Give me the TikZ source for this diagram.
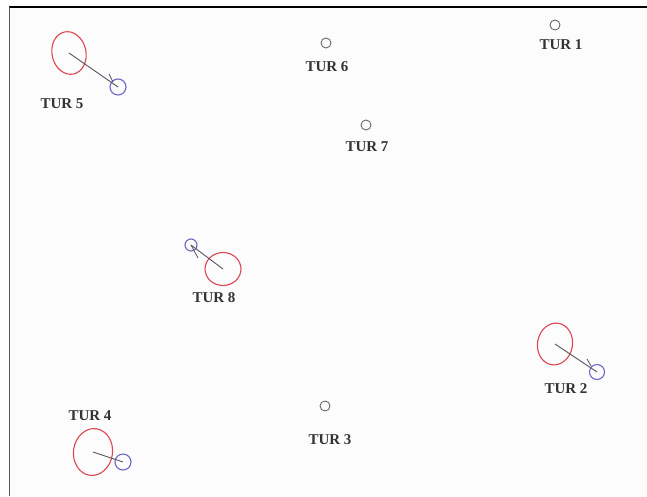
\documentclass[tikz,border=0pt]{standalone}
\usepackage{fontspec}
\setmainfont{Liberation Serif}
\usetikzlibrary{shapes.geometric}
\definecolor{ellred}{RGB}{222,70,80}
\definecolor{cirblue}{RGB}{105,105,200}
\definecolor{linegray}{RGB}{85,85,95}
\definecolor{turgray}{RGB}{105,105,105}
\definecolor{bgpaper}{RGB}{252,252,253}
\tikzset{
  turlabel/.style={font=\fontsize{15}{16}\selectfont\bfseries, text=black!80, inner sep=0pt},
  turbine/.style={circle, draw=turgray, line width=0.9pt, minimum size=10pt, inner sep=0pt},
  wake/.style={ellipse, draw=ellred, line width=1.1pt, inner sep=0pt},
  rotor/.style={circle, draw=cirblue, line width=1.1pt, inner sep=0pt},
  link/.style={draw=linegray, line width=0.9pt},
  tick/.style={draw=linegray, line width=0.8pt}
}
\begin{document}
\begin{tikzpicture}[x=1pt,y=-1pt]
\useasboundingbox (0,0) rectangle (647,496);
\fill[bgpaper] (10,7) rectangle (647,496);
\draw[black, line width=1.6pt] (9,7) -- (647,7);
\draw[black!65, line width=1.4pt] (9.5,6.5) -- (9.5,496);
% simple turbines
\node[turbine] (t1) at (555,25) {};
\node[turlabel] (l1) at (561,45) {TUR 1};
\node[turbine] (t6) at (326,43) {};
\node[turlabel] (l6) at (327,67) {TUR 6};
\node[turbine] (t7) at (366,125) {};
\node[turlabel] (l7) at (367,147) {TUR 7};
\node[turbine] (t3) at (325,406) {};
\node[turlabel] (l3) at (330,440) {TUR 3};
% TUR 5
\node[wake, minimum width=34pt, minimum height=43pt, rotate=12] (e5) at (69,53) {};
\node[rotor, minimum size=16pt] (b5) at (118,87) {};
\draw[link] (e5.center) -- (b5.center);
\coordinate (k5a) at (113,82);
\coordinate (k5b) at (109,74);
\draw[tick] (k5a) -- (k5b);
\node[turlabel] (l5) at (62,104) {TUR 5};
% TUR 8
\node[rotor, minimum size=12pt] (b8) at (191,245) {};
\node[wake, minimum width=36pt, minimum height=33pt] (e8) at (223,269) {};
\draw[link] (b8.center) -- (e8.center);
\coordinate (k8) at (198,258);
\draw[tick] (b8.center) -- (k8);
\node[turlabel] (l8) at (214,298) {TUR 8};
% TUR 2
\node[wake, minimum width=35pt, minimum height=42pt, rotate=-10] (e2) at (555,344) {};
\node[rotor, minimum size=15pt] (b2) at (597,372) {};
\draw[link] (e2.center) -- (b2.center);
\coordinate (k2a) at (591,366);
\coordinate (k2b) at (587,359);
\draw[tick] (k2a) -- (k2b);
\node[turlabel] (l2) at (566,389) {TUR 2};
% TUR 4
\node[turlabel] (l4) at (90,416) {TUR 4};
\node[wake, minimum width=39pt, minimum height=47pt, rotate=-8] (e4) at (93,452) {};
\node[rotor, minimum size=16pt] (b4) at (123,462) {};
\draw[link] (e4.center) -- (b4.center);
\end{tikzpicture}
\end{document}
